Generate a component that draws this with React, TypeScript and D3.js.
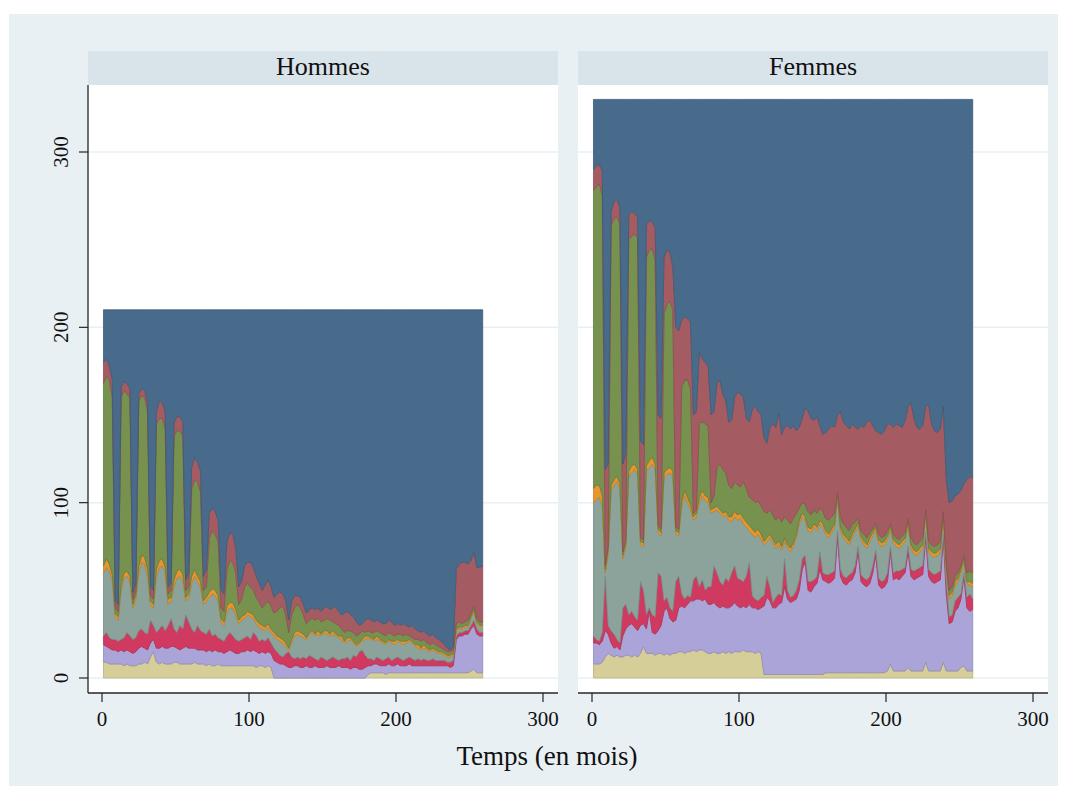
import React from 'react';
import * as d3 from 'd3';

const months = [1,3,5,7,9,11,13,15,17,19,21,23,25,27,29,31,33,35,37,39,41,43,45,47,49,51,53,55,57,59,61,63,65,67,69,71,73,75,77,79,81,83,85,87,89,91,93,95,97,99,101,103,105,107,109,111,113,115,117,119,121,123,125,127,129,131,133,135,137,139,141,143,145,147,149,151,153,155,157,159,161,163,165,167,169,171,173,175,177,179,181,183,185,187,189,191,193,195,197,199,201,203,205,207,209,211,213,215,217,219,221,223,225,227,229,231,233,235,237,239,241,243,245,247,249,251,253,255,257,259];

const xTicks = [0, 100, 200, 300];
const yTicks = [0, 100, 200, 300];
const panelTitles = ['Hommes', 'Femmes'];
const xTitle = 'Temps (en mois)';

// ---- Hommes (counts per state, bottom to top) ----
const hommesKhaki = [9,9,8,8, 8,8,8,7, 8,7,7,7, 8,8,9,8, 12,15,9,8, 9,8,8,8, 9,9,8,8, 8,8,8,9, 8,8,8,7, 8,7,7,8, 7,7,7,7, 7,7,7,7, 7,7,7,7, 6,7,7,6, 7,6,0,0, 0,0,0,0, 0,0,0,0, 0,0,0,0, 0,0,0,0, 0,0,0,0, 0,0,0,0, 0,0,0,0, 0,0,2,3, 3,3,3,3, 2,3,3,3, 3,3,3,3, 3,3,3,3, 3,3,3,3, 3,3,3,3, 3,3,3,3, 3,3,3,3, 3,4,5,3, 3,3];
const hommesLavande = [10,9,9,8, 8,7,8,8, 8,8,7,8, 9,10,8,8, 8,7,8,9, 9,9,9,10, 9,8,8,9, 10,9,9,8, 8,8,8,8, 8,8,9,7, 8,7,8,9, 8,7,7,8, 8,9,8,9, 9,7,8,8, 8,8,10,9, 8,8,7,6, 6,7,7,6, 6,7,6,6, 7,6,6,6, 7,6,6,6, 7,6,6,6, 5,6,6,5, 5,6,5,4, 5,5,4,4, 5,5,4,4, 5,4,4,4, 5,4,4,4, 4,4,4,4, 4,4,4,4, 4,4,3,4, 19,21,21,22, 22,24,25,22, 21,21];
const hommesCramoisi = [5,8,6,6, 6,6,6,8, 10,9,8,8, 10,10,9,9, 13,8,9,11, 12,10,13,16, 10,9,14,11, 18,15,11,9, 14,11,10,10, 12,9,9,8, 7,7,9,10, 9,8,7,7, 8,8,7,10, 9,7,7,7, 8,6,7,6, 5,4,7,9, 6,4,5,5, 6,4,7,6, 4,4,6,5, 3,5,6,5, 3,5,5,6, 5,7,6,10, 11,7,4,4, 2,4,4,3, 4,4,3,4, 4,4,3,4, 4,4,3,4, 3,4,3,3, 4,3,3,3, 3,2,3,3, 2,2,2,2, 2,2,3,3, 2,2];
const hommesGrisVert = [36,37,38,34, 13,12,28,34, 32,31,18,22, 33,38,39,33, 9,10,32,35, 34,33,12,10, 24,31,28,27, 8,14,26,32, 25,25,16,19, 18,24,22,21, 10,9,14,14, 16,14,10,11, 11,12,13,8, 7,8,6,6, 6,6,7,7, 8,8,4,1, 8,13,13,13, 11,11,12,14, 13,15,12,15, 15,13,13,13, 13,11,9,9, 12,7,6,4, 5,9,12,11, 11,10,10,10, 8,9,10,8, 9,9,9,9, 9,9,8,6, 6,6,6,5, 5,5,4,4, 3,3,3,3, 3,2,2,2, 2,4,5,3, 3,3];
const hommesOrange = [4,5,4,3, 2,2,3,3, 3,3,2,2, 4,4,4,4, 2,2,4,4, 4,3,3,2, 4,4,4,4, 2,2,4,4, 3,3,2,2, 3,3,3,3, 2,2,3,3, 3,3,2,2, 2,2,2,2, 2,2,2,2, 2,2,2,2, 2,2,2,1, 2,2,2,2, 2,1,1,1, 1,2,1,1, 2,1,2,1, 1,2,1,2, 1,1,1,1, 1,2,1,1, 1,2,1,1, 1,1,1,2, 1,1,2,1, 1,1,1,2, 1,2,1,1, 1,1,1,1, 1,1,1,1, 1,1,1,1, 1,1,1,1, 1,1];
const hommesVert = [104,104,105,101, 3,3,107,104, 101,102,3,3, 94,91,91,90, 3,3,83,81, 80,79,3,4, 82,80,79,79, 4,4,50,51, 54,51,6,6, 31,33,32,31, 6,6,21,24, 23,21,9,10, 16,16,15,14, 13,12,10,13, 13,13,11,14, 17,19,16,9, 14,14,15,14, 11,8,7,7, 8,7,7,6, 7,8,5,6, 6,4,5,4, 4,5,5,5, 5,2,3,3, 4,3,4,4, 4,4,4,3, 3,4,3,4, 2,2,3,3, 4,3,3,3, 3,3,3,2, 2,2,2,2, 3,3,2,2, 3,2,2,2, 2,2];
const hommesBrique = [12,10,8,10, 4,4,6,5, 6,5,4,4, 4,4,4,5, 5,5,7,10, 9,10,4,4, 8,8,8,8, 6,8,12,13, 11,12,8,10, 14,13,13,12, 10,10,16,16, 16,14,10,10, 12,12,14,13, 12,11,10,11, 12,11,9,10, 9,7,8,7, 8,7,5,6, 6,6,6,6, 6,6,6,7, 7,6,8,10, 8,8,11,11, 9,9,8,5, 4,7,7,7, 6,6,6,6, 7,7,7,6, 6,5,7,5, 5,7,6,5, 5,5,5,5, 5,4,4,4, 3,2,1,2, 31,33,35,34, 32,30,31,29, 31,32];
const hommesBleu = [30,28,32,40, 166,168,44,41, 42,45,161,156, 48,45,46,53, 158,160,58,52, 53,58,158,156, 64,61,61,64, 154,150,90,84, 87,92,152,148, 116,113,115,120, 160,162,132,127, 128,136,158,155, 146,144,144,147, 152,156,160,157, 154,158,164,162, 161,162,166,177, 166,163,163,164, 168,173,171,170, 171,170,172,170, 169,171,170,169, 172,174,173,172, 174,175,178,180, 179,177,176,177, 178,177,178,179, 179,177,178,180, 179,180,179,180, 181,180,182,183, 184,183,185,186, 185,187,188,189, 191,193,194,192, 148,145,144,144, 145,143,138,147, 147,146];

// ---- Femmes ----
const femmesKhaki = [8,8,8,9, 12,14,13,12, 13,12,12,13, 13,12,13,12, 14,18,14,14, 14,13,14,14, 13,14,13,14, 14,15,15,14, 15,15,16,15, 16,16,15,14, 14,15,14,14, 15,14,15,14, 15,15,15,16, 15,15,15,14, 15,14,2,2, 2,2,2,2, 2,2,2,2, 2,2,2,2, 2,2,2,2, 2,2,2,3, 3,3,3,3, 3,3,3,3, 3,3,3,3, 3,3,3,3, 3,3,3,3, 4,8,4,4, 4,4,4,6, 4,4,4,4, 4,9,4,4, 4,4,4,9, 4,4,4,4, 4,6,7,4, 4,4];
const femmesLavande = [12,12,11,12, 15,11,7,5, 5,4,12,15, 17,19,16,15, 16,13,14,24, 12,12,13,16, 25,26,21,18, 19,25,26,26, 27,29,28,30, 29,28,30,28, 28,28,27,26, 26,26,25,27, 28,26,25,25, 25,27,25,26, 24,26,39,44, 42,38,38,40, 41,50,43,41, 42,43,48,60, 64,48,47,50, 52,60,54,52, 51,52,54,77, 55,51,50,52, 53,57,69,52, 50,49,51,57, 67,50,48,49, 51,64,52,53, 52,54,56,66, 54,52,53,54, 55,71,54,51, 50,51,52,71, 44,27,28,34, 36,39,51,36, 34,35];
const femmesCramoisi = [4,2,2,5, 31,5,7,8, 4,4,16,14, 6,7,6,6, 25,19,8,2, 10,10,33,28, 6,6,6,6, 22,18,7,5, 5,2,12,13, 7,12,5,10, 10,21,19,15, 12,17,15,19, 21,16,16,14, 18,24,7,5, 5,6,6,12, 8,3,6,6, 4,16,5,3, 3,5,6,6, 4,5,6,4, 4,10,4,4, 5,5,4,4, 4,4,4,4, 4,4,3,4, 4,4,4,4, 3,4,4,4, 5,3,4,4, 5,4,3,3, 4,5,5,5, 5,3,4,5, 5,5,5,2, 7,4,4,6, 6,3,2,6, 10,6];
const femmesGrisVert = [76,80,82,72, 2,40,80,85, 90,88,28,33, 79,79,84,83, 21,25,82,80, 86,84,23,23, 70,70,77,77, 27,23,50,59, 53,50,34,34, 48,48,51,48, 42,31,36,39, 39,36,35,29, 28,33,35,33, 28,18,35,35, 38,33,29,20, 28,34,28,28, 26,10,24,26, 28,30,32,24, 20,29,28,30, 26,16,26,23, 21,23,25,18, 22,22,21,17, 20,19,12,20, 19,18,20,17, 11,20,20,20, 19,10,17,14, 13,14,15,12, 12,10,8,9, 10,10,10,10, 10,10,11,10, 7,10,11,9, 9,12,6,8, 5,7];
const femmesOrange = [8,8,7,6, 2,3,3,3, 3,3,2,2, 3,4,3,3, 2,2,3,4, 4,3,2,2, 3,3,3,3, 2,2,3,3, 3,3,2,2, 3,3,3,3, 2,2,2,2, 2,2,2,3, 3,3,3,3, 3,3,3,3, 3,3,2,2, 2,2,2,2, 2,2,2,2, 2,2,2,2, 2,2,2,2, 2,2,2,2, 2,2,2,2, 2,2,2,2, 2,2,2,2, 2,2,2,2, 2,2,2,2, 2,2,2,2, 2,2,2,2, 2,2,2,2, 2,2,2,2, 2,2,2,2, 1,2,2,2, 2,2,2,1, 2,2];
const femmesVert = [170,170,172,171, 2,2,148,149, 148,148,2,2, 132,131,131,132, 2,2,119,120, 119,116,2,2, 91,94,95,92, 2,2,65,63, 67,66,2,2, 42,39,41,41, 4,7,22,26, 25,22,18,16, 17,17,15,21, 19,16,17,17, 16,16,17,14, 14,14,14,14, 14,12,14,14, 14,12,7,6, 7,9,8,8, 8,7,7,7, 8,7,6,2, 6,6,6,6, 6,4,2,3, 4,4,3,2, 2,3,3,3, 3,1,3,3, 3,3,3,2, 4,4,4,4, 4,1,4,4, 4,4,4,1, 3,3,3,3, 3,2,2,5, 6,6];
const femmesBrique = [12,12,11,14, 55,47,8,10, 10,9,50,49, 14,14,12,12, 55,54,18,17, 15,19,63,63, 32,31,28,24, 114,113,38,36, 35,38,56,56, 41,36,35,34, 50,48,48,48, 43,41,36,39, 48,53,53,48, 40,43,51,55, 51,52,42,40, 47,52,53,59, 50,51,54,54, 53,47,46,48, 55,57,55,51, 55,47,44,49, 52,52,49,44, 60,58,58,58, 57,54,51,60, 61,66,64,59, 53,58,59,60, 61,57,61,65, 65,62,64,64, 77,71,67,64, 64,59,78,69, 66,64,64,60, 47,50,49,46, 45,43,41,53, 54,54];
const femmesBleu = [40,38,37,41, 211,208,64,58, 57,62,208,202, 66,64,65,67, 195,197,72,69, 70,73,180,182, 90,86,87,96, 130,132,126,124, 125,127,180,178, 144,148,150,152, 180,178,162,160, 168,172,184,183, 170,167,168,170, 182,184,177,175, 178,180,193,196, 187,185,187,179, 191,187,186,188, 186,189,187,182, 176,178,182,183, 181,186,191,190, 188,186,187,180, 178,184,186,188, 185,187,188,186, 187,184,183,186, 189,190,191,189, 185,185,187,185, 186,187,183,175, 173,182,187,188, 186,175,174,185, 189,190,188,175, 217,230,229,226, 225,223,219,217, 215,216];

const stateKeys = ['khaki', 'lavande', 'cramoisi', 'grisVert', 'orange', 'vert', 'brique', 'bleu'];
const stateColors = ['#d6ce98', '#aaa4d9', '#d03a60', '#8ba39b', '#e8962b', '#77914f', '#a55b62', '#486a8b'];

const hommesSeries = [hommesKhaki, hommesLavande, hommesCramoisi, hommesGrisVert, hommesOrange, hommesVert, hommesBrique, hommesBleu];
const femmesSeries = [femmesKhaki, femmesLavande, femmesCramoisi, femmesGrisVert, femmesOrange, femmesVert, femmesBrique, femmesBleu];

const FONT = '"Liberation Serif", "Times New Roman", serif';
const AXIS = '#262626';

function Panel({ title, x0, series, showY, clipId }: { title: string; x0: number; series: number[][]; showY: boolean; clipId: string }) {
  const w = 470;
  const plotTop = 85;
  const plotBottom = 693;
  const x = d3.scaleLinear().domain([0, 300]).range([x0 + 14, x0 + 455]);
  const y = d3.scaleLinear().domain([0, 300]).range([678, 152]);
  const rows = months.map((m, i) => {
    const r: any = { m };
    stateKeys.forEach((k, j) => { r[k] = series[j][i]; });
    return r;
  });
  const stacked = d3.stack<any>().keys(stateKeys)(rows);
  const area = d3.area<any>()
    .x((d: any) => x(d.data.m))
    .y0((d: any) => y(d[0]))
    .y1((d: any) => y(d[1]));
  return (
    <g>
      <defs>
        <clipPath id={clipId}>
          <rect x={x0} y={plotTop} width={w} height={plotBottom - plotTop} />
        </clipPath>
      </defs>
      <rect x={x0} y={51} width={w} height={34} fill="#d9e4ea" />
      <text x={x0 + w / 2} y={75} textAnchor="middle" fontSize={26} fill="#111">{title}</text>
      <rect x={x0} y={plotTop} width={w} height={plotBottom - plotTop} fill="#ffffff" />
      {yTicks.map(t => (
        <line key={'g' + t} x1={x0} x2={x0 + w} y1={y(t)} y2={y(t)} stroke="#e9eff2" strokeWidth={1.5} />
      ))}
      <g clipPath={`url(#${clipId})`}>
        {stacked.map((s, i) => (
          <path key={stateKeys[i]} d={area(s as any) || ''} fill={stateColors[i]}
            stroke={(d3.color(stateColors[i]) as any).darker(0.45).toString()} strokeWidth={0.8} strokeLinejoin="round" />
        ))}
      </g>
      <line x1={x0} x2={x0 + w} y1={plotBottom} y2={plotBottom} stroke={AXIS} strokeWidth={1.3} />
      {xTicks.map(t => (
        <g key={'x' + t}>
          <line x1={x(t)} x2={x(t)} y1={plotBottom} y2={plotBottom + 9} stroke={AXIS} strokeWidth={1.2} />
          <text x={x(t)} y={726} textAnchor="middle" fontSize={21} fill="#111">{t}</text>
        </g>
      ))}
      {showY && (
        <g>
          <line x1={x0} x2={x0} y1={plotTop} y2={plotBottom} stroke={AXIS} strokeWidth={1.3} />
          {yTicks.map(t => (
            <g key={'y' + t}>
              <line x1={x0 - 9} x2={x0} y1={y(t)} y2={y(t)} stroke={AXIS} strokeWidth={1.2} />
              <text transform={`translate(68,${y(t)}) rotate(-90)`} textAnchor="middle" fontSize={21} fill="#111">{t}</text>
            </g>
          ))}
        </g>
      )}
    </g>
  );
}

export default function App() {
  return (
    <svg width={1067} height={787} style={{ position: 'absolute', left: 0, top: 0, fontFamily: FONT }}>
      <rect width={1067} height={787} fill="#ffffff" />
      <rect x={9} y={14} width={1049} height={772} fill="#e8f0f3" />
      <Panel title={panelTitles[0]} x0={88} series={hommesSeries} showY={true} clipId="clipH" />
      <Panel title={panelTitles[1]} x0={578} series={femmesSeries} showY={false} clipId="clipF" />
      <text x={547} y={765} textAnchor="middle" fontSize={27} fill="#111">{xTitle}</text>
    </svg>
  );
}
